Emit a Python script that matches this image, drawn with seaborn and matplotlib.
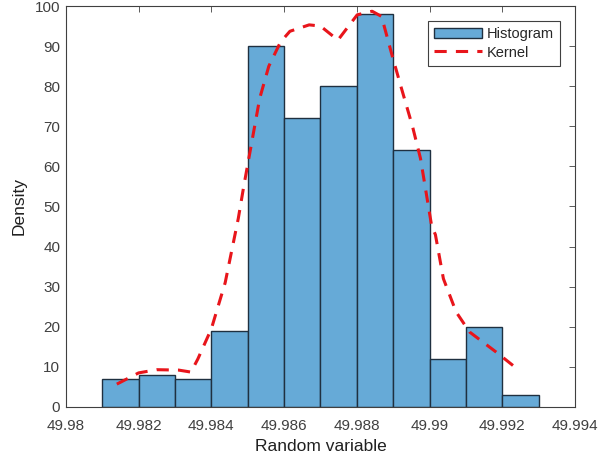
import numpy as np
import pandas as pd
import matplotlib.pyplot as plt
import seaborn as sns

# histogram bins
bin_edges = [49.981, 49.982, 49.983, 49.984, 49.985, 49.986, 49.987,
             49.988, 49.989, 49.990, 49.991, 49.992, 49.993]
bin_heights = [7, 8, 7, 19, 90, 72, 80, 98, 64, 12, 20, 3]

# kernel density curve (estimated points)
kernel_x = [49.9814, 49.9820, 49.9825, 49.9831, 49.98344, 49.98363, 49.9840,
            49.98438, 49.98474, 49.98489, 49.98533, 49.98558, 49.9859, 49.98616,
            49.98669, 49.9870, 49.98748, 49.98801, 49.98842, 49.98868, 49.98896,
            49.98921, 49.98953, 49.98975, 49.99006, 49.99016, 49.99038, 49.99073,
            49.9911, 49.99183, 49.9923]
kernel_y = [5.7, 8.5, 9.3, 9.2, 8.7, 12, 19.5,
            31, 47, 55, 77, 85, 91, 93.7,
            95.3, 95, 91.5, 97.8, 98.7, 97.4, 88,
            80, 70, 62, 45, 43, 32, 23.7,
            18.7, 13.7, 10.3]

centers = (np.array(bin_edges[:-1]) + np.array(bin_edges[1:])) / 2
df_hist = pd.DataFrame({'x': centers, 'h': bin_heights})
df_kern = pd.DataFrame({'x': kernel_x, 'y': kernel_y})

sns.set_style("white")
plt.rcParams['font.family'] = ['Liberation Sans', 'DejaVu Sans']

fig = plt.figure(figsize=(5.99, 4.63), dpi=100)
ax = fig.add_axes([0.110, 0.121, 0.850, 0.866])

sns.histplot(data=df_hist, x='x', weights='h', bins=bin_edges, stat='count',
             color='#66AAD7', alpha=1.0, edgecolor='#1f3040', linewidth=1.0,
             label='Histogram', ax=ax)
sns.lineplot(data=df_kern, x='x', y='y', color='#e8151b', linewidth=2.2,
             ax=ax, label='Kernel', legend=False)
ax.lines[-1].set_dashes([4, 3])

ax.set_xlim(49.98, 49.994)
ax.set_ylim(0, 100)
ax.set_xticks(np.arange(49.98, 49.9941, 0.002))
ax.set_xticklabels(['49.98', '49.982', '49.984', '49.986', '49.988', '49.99',
                    '49.992', '49.994'])
ax.set_yticks(range(0, 101, 10))
ax.tick_params(direction='in', top=True, right=True, length=4, width=0.6,
               colors='#404040', labelsize=11, labelcolor='#404040')
ax.tick_params(axis='y', pad=4)
ax.tick_params(axis='x', pad=9)
for s in ax.spines.values():
    s.set_color('#404040')
    s.set_linewidth(0.8)

ax.set_xlabel('Random variable', fontsize=12.5, color='#202020', labelpad=4)
ax.set_ylabel('Density', fontsize=12.5, color='#202020', labelpad=6)

handles = [ax.patches[0], ax.lines[-1]]
leg = ax.legend(handles, ['Histogram', 'Kernel'], loc='upper right',
                fontsize=10.5, frameon=True, fancybox=False,
                edgecolor='#404040', framealpha=1, borderaxespad=1.0,
                handlelength=3.3, handletextpad=0.3, borderpad=0.45,
                labelspacing=0.3)
leg.get_frame().set_linewidth(0.8)

plt.savefig('out.png', dpi=100)
